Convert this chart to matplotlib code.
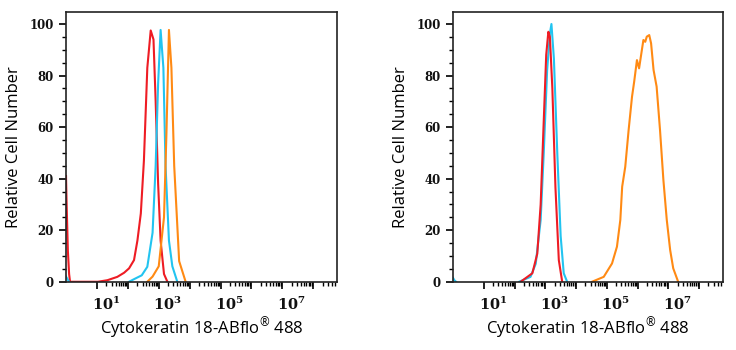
import numpy as np
import matplotlib
matplotlib.use("Agg")
import matplotlib.pyplot as plt
from matplotlib.ticker import FixedLocator, FuncFormatter, MultipleLocator
from matplotlib.transforms import ScaledTranslation

plt.rcParams["mathtext.fontset"] = "custom"
plt.rcParams["mathtext.rm"] = "Open Sans"
plt.rcParams["mathtext.bf"] = "DejaVu Serif:bold"

RED    = "#ee1c24"
CYAN   = "#22c4f0"
ORANGE = "#ff8a14"

# Histogram traces: log10(intensity) and relative cell count
left_red_log   = [0.0, 0.02, 0.06, 0.1, 0.13, 1.03, 1.34, 1.66, 1.88, 2.04, 2.2, 2.31, 2.42,
                  2.52, 2.63, 2.74, 2.83, 2.9, 2.98, 3.06, 3.17, 3.28]
left_red_val   = [41, 30, 12, 3, 0, 0, 0.6, 1.9, 3.5, 5.2, 8.4, 16, 26.5,
                  47, 83, 97.5, 94, 70, 38, 16, 3, 0]
left_cyan_log  = [2.04, 2.2, 2.45, 2.63, 2.8, 2.9, 2.98, 3.06, 3.15, 3.22, 3.33, 3.44, 3.6]
left_cyan_val  = [0, 1, 2.5, 5.8, 19, 45, 77, 97.7, 83, 45, 16, 6, 0]
left_cyan_edge_log = [0.0, 0.05, 0.1]
left_cyan_edge_val = [2, 1, 0]
left_orng_log  = [2.63, 2.8, 3.0, 3.17, 3.25, 3.33, 3.41, 3.5, 3.66, 3.87]
left_orng_val  = [0, 2, 6, 25, 58, 97.7, 83, 45, 8, 0]

right_red_log  = [2.2, 2.58, 2.74, 2.85, 2.95, 3.03, 3.1, 3.15, 3.23, 3.33, 3.44, 3.55]
right_red_val  = [0, 3.3, 10.9, 30, 62.4, 88, 97, 95, 75, 36.7, 8.4, 0]
right_cyan_log = [2.15, 2.52, 2.69, 2.85, 2.95, 3.06, 3.15, 3.2, 3.28, 3.39, 3.5, 3.6, 3.71]
right_cyan_val = [0, 1.9, 7, 24, 50, 82, 96.3, 100, 86.6, 50, 17.7, 3.3, 0]
right_cyan_edge_log = [0.0, 0.05, 0.1]
right_cyan_edge_val = [1.5, 0.5, 0]
right_orng_log = [4.52, 4.9, 5.17, 5.33, 5.44, 5.5, 5.6, 5.71, 5.82, 5.89, 5.98, 6.05,
                  6.14, 6.19, 6.25, 6.3, 6.38, 6.44, 6.52, 6.62, 6.73, 6.84, 6.95,
                  7.06, 7.16, 7.32]
right_orng_val = [0, 1.9, 7.1, 13.6, 24, 36.9, 44.6, 58.9, 71.8, 77.6, 86, 82.8,
                  89.9, 93.8, 93.1, 95.1, 95.7, 92.5, 82.2, 75.7, 58.9, 39.5, 24,
                  12.3, 5.2, 0]

y_ticks = [0, 20, 40, 60, 80, 100]
x_label = r"Cytokeratin 18-ABflo$^{\mathrm{®}}$ 488"
y_label = "Relative Cell Number"

panels = [
    [(left_red_log, left_red_val, RED), (left_cyan_edge_log, left_cyan_edge_val, CYAN),
     (left_cyan_log, left_cyan_val, CYAN), (left_orng_log, left_orng_val, ORANGE)],
    [(right_cyan_edge_log, right_cyan_edge_val, CYAN), (right_orng_log, right_orng_val, ORANGE),
     (right_cyan_log, right_cyan_val, CYAN), (right_red_log, right_red_val, RED)],
]

fig = plt.figure(figsize=(7.36, 3.5), dpi=100)
ax_rects = [[0.0897, 0.195, 0.3683, 0.771], [0.6155, 0.195, 0.3665, 0.771]]

major = [10.0 ** k for k in range(1, 9)]
minor = [m * 10.0 ** k for k in range(1, 9) for m in range(2, 10)]


def fmt(x, pos):
    k = int(round(np.log10(x)))
    return r"$\mathbf{10^{%d}}$" % k if k % 2 == 1 else ""


for rect, traces in zip(ax_rects, panels):
    ax = fig.add_axes(rect)
    for lx, v, c in traces:
        ax.plot(np.power(10.0, lx), v, color=c, lw=1.5, solid_joinstyle="round")
    ax.set_xscale("log")
    ax.set_xlim(1, 10 ** 8.77)
    ax.set_ylim(0, 104.7)
    ax.xaxis.set_major_locator(FixedLocator(major))
    ax.xaxis.set_minor_locator(FixedLocator(minor))
    ax.xaxis.set_major_formatter(FuncFormatter(fmt))
    ax.xaxis.set_minor_formatter(FuncFormatter(lambda x, p: ""))
    ax.yaxis.set_major_locator(FixedLocator(y_ticks))
    ax.yaxis.set_minor_locator(MultipleLocator(5))
    ax.tick_params(which="major", length=5, width=1.3, direction="out",
                   colors="#111111")
    ax.tick_params(axis="x", which="major", pad=5, labelsize=10.5)
    ax.tick_params(axis="y", which="major", pad=4)
    ax.tick_params(which="minor", length=3, width=1.0, direction="out")
    for lab in ax.get_yticklabels():
        lab.set_fontfamily("DejaVu Serif")
        lab.set_fontweight("bold")
        lab.set_fontsize(8.5)
    offset = ScaledTranslation(9 / 100, 0, fig.dpi_scale_trans)
    for lab in ax.get_xticklabels():
        lab.set_transform(lab.get_transform() + offset)
    for s in ax.spines.values():
        s.set_linewidth(1.2)
        s.set_color("#222222")
    ax.set_xlabel(x_label, fontfamily="Open Sans", fontsize=12, labelpad=2)
    ax.set_ylabel(y_label, fontfamily="Open Sans", fontsize=12, labelpad=5)

fig.savefig("out.png", dpi=100)
